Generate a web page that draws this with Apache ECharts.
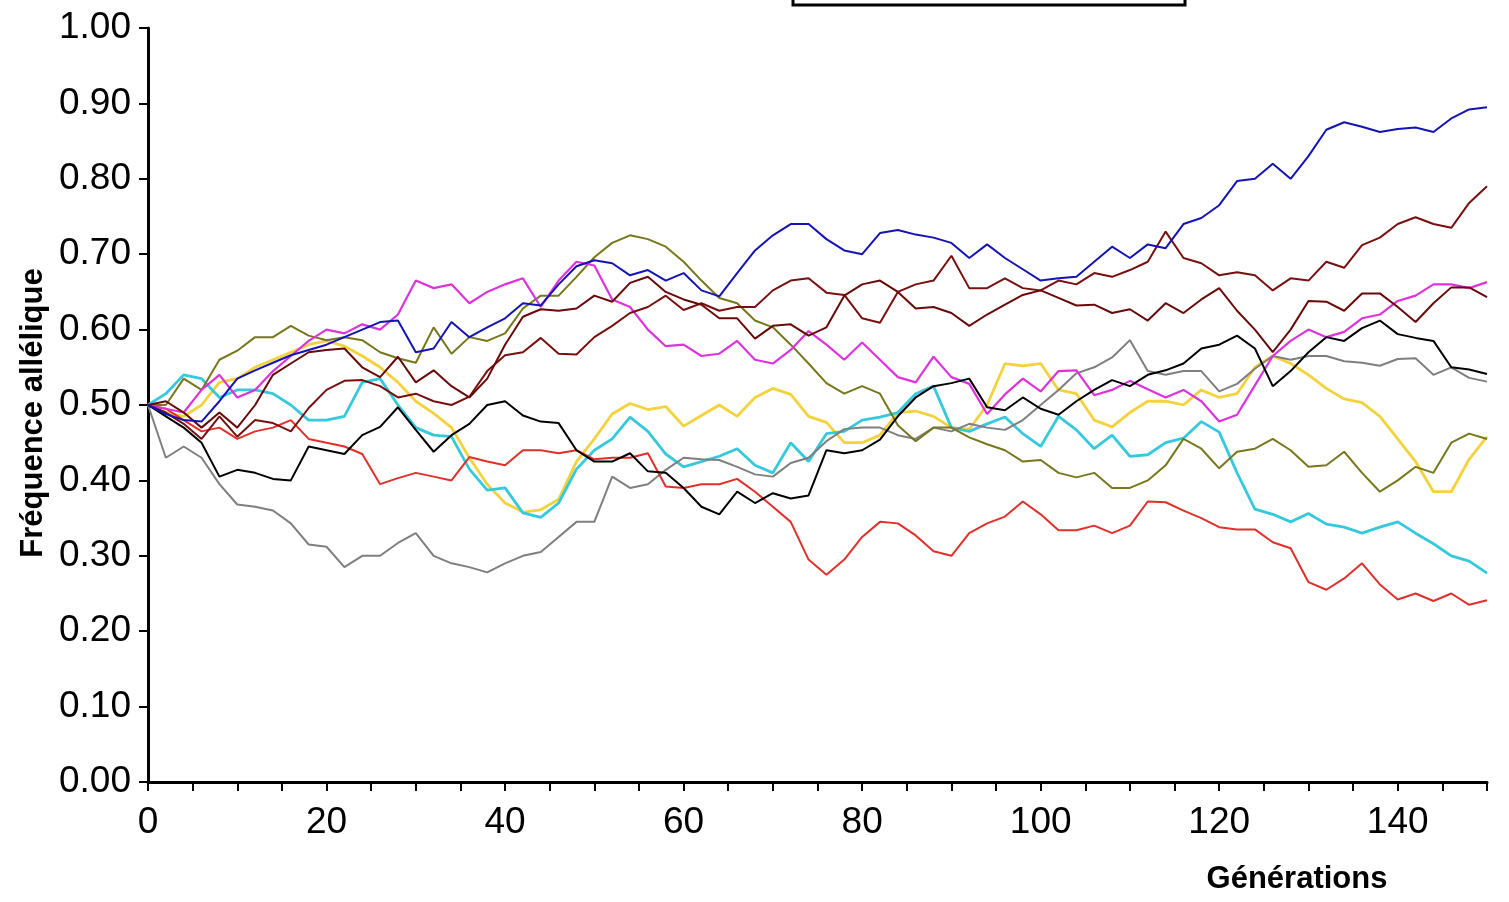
<!DOCTYPE html>
<html>
<head>
<meta charset="utf-8">
<script src="https://cdn.jsdelivr.net/npm/echarts@6/dist/echarts.min.js"></script>
<style>
  html, body { margin: 0; padding: 0; background: #fff; }
  #chart { width: 1509px; height: 902px; }
</style>
</head>
<body>
<div id="chart"></div>
<script>
// generations sampled every 2
const generations = [0,2,4,6,8,10,12,14,16,18,20,22,24,26,28,30,32,34,36,38,40,42,44,46,48,50,52,54,56,58,60,62,64,66,68,70,72,74,76,78,80,82,84,86,88,90,92,94,96,98,100,102,104,106,108,110,112,114,116,118,120,122,124,126,128,130,132,134,136,138,140,142,144,146,148,150]

const blue = [.50,.488,.48,.478,.505,.535,.546,.556,.566,.573,
  .58,.59,.60,.61,.612,.57,.575,.61,.59,.603,
  .615,.635,.632,.66,.684,.692,.688,.672,.679,.665,
  .675,.652,.644,.675,.705,.725,.74,.74,.72,.705,
  .70,.728,.732,.726,.722,.715,.695,.713,.695,.68,
  .665,.668,.67,.69,.71,.695,.713,.708,.74,.748,
  .765,.797,.80,.82,.80,.83,.865,.875,.869,.862,
  .866,.868,.862,.88,.892,.895]
const magenta = [.50,.495,.49,.52,.54,.51,.52,.545,.565,.585,
  .60,.595,.607,.60,.62,.665,.655,.66,.635,.65,
  .66,.668,.63,.665,.69,.685,.64,.63,.60,.578,
  .58,.565,.568,.585,.56,.555,.573,.598,.58,.56,
  .583,.56,.537,.53,.564,.537,.528,.488,.514,.535,
  .518,.545,.546,.513,.52,.532,.521,.51,.52,.505,
  .478,.487,.526,.565,.585,.60,.59,.597,.615,.62,
  .638,.645,.66,.66,.655,.663]
const maroonA = [.50,.49,.475,.455,.485,.458,.48,.476,.465,.496,
  .52,.532,.533,.525,.51,.515,.505,.50,.511,.545,
  .566,.57,.589,.568,.567,.59,.605,.622,.63,.645,
  .626,.635,.625,.63,.63,.652,.665,.668,.649,.646,
  .615,.609,.65,.66,.665,.698,.655,.655,.668,.655,
  .652,.665,.66,.675,.67,.679,.69,.73,.695,.688,
  .672,.676,.672,.652,.668,.665,.69,.682,.712,.722,
  .74,.749,.74,.735,.768,.79]
const maroonB = [.50,.505,.49,.47,.49,.47,.50,.54,.555,.57,
  .573,.575,.55,.537,.564,.53,.546,.525,.51,.535,
  .58,.617,.627,.625,.628,.645,.637,.662,.67,.65,
  .64,.633,.615,.615,.588,.605,.607,.592,.603,.645,
  .66,.665,.65,.628,.63,.622,.605,.62,.633,.646,
  .652,.642,.632,.633,.622,.627,.612,.635,.622,.64,
  .655,.625,.60,.57,.60,.638,.637,.625,.648,.648,
  .63,.61,.635,.656,.656,.643]
const black = [.50,.485,.47,.45,.405,.414,.41,.402,.40,.445,
  .44,.435,.46,.471,.497,.467,.438,.46,.475,.50,
  .505,.486,.478,.476,.44,.425,.425,.436,.412,.41,
  .39,.365,.355,.385,.37,.383,.376,.38,.44,.436,
  .44,.454,.485,.51,.525,.529,.535,.497,.493,.51,
  .495,.487,.505,.52,.533,.525,.54,.546,.555,.575,
  .58,.592,.575,.525,.545,.57,.59,.585,.602,.612,
  .594,.589,.585,.55,.547,.541]
const gray = [.50,.43,.445,.43,.395,.368,.365,.36,.343,.315,
  .312,.285,.30,.30,.317,.33,.30,.29,.285,.278,
  .29,.30,.305,.325,.345,.345,.405,.39,.395,.414,
  .43,.428,.427,.418,.408,.405,.423,.43,.452,.468,
  .47,.47,.46,.455,.47,.465,.475,.47,.467,.48,
  .50,.52,.542,.55,.563,.586,.545,.54,.545,.545,
  .518,.528,.548,.565,.56,.565,.565,.558,.556,.552,
  .561,.562,.54,.55,.536,.531]
const cyan = [.50,.515,.54,.535,.51,.52,.52,.515,.50,.48,
  .48,.485,.53,.535,.50,.47,.46,.458,.415,.387,
  .39,.357,.351,.37,.415,.44,.455,.484,.465,.435,
  .418,.425,.432,.442,.42,.41,.45,.425,.462,.465,
  .48,.484,.49,.515,.525,.47,.465,.475,.484,.462,
  .445,.485,.467,.442,.46,.432,.434,.45,.456,.478,
  .464,.41,.362,.355,.345,.356,.342,.338,.33,.338,
  .345,.33,.316,.30,.293,.277]
const yellow = [.50,.49,.485,.50,.53,.535,.55,.56,.57,.58,
  .585,.578,.565,.55,.53,.505,.489,.47,.43,.395,
  .37,.358,.361,.375,.425,.455,.488,.502,.494,.498,
  .472,.486,.50,.485,.51,.522,.514,.485,.477,.45,
  .45,.46,.49,.492,.485,.47,.468,.50,.555,.552,
  .555,.52,.515,.48,.471,.49,.505,.505,.50,.52,
  .51,.515,.55,.565,.555,.54,.522,.508,.503,.485,
  .455,.425,.385,.385,.428,.458]
const olive = [.50,.50,.535,.52,.56,.572,.59,.59,.605,.592,
  .586,.59,.586,.57,.562,.556,.603,.568,.59,.585,
  .595,.628,.645,.645,.67,.696,.715,.725,.72,.71,
  .69,.665,.642,.635,.612,.603,.58,.555,.529,.515,
  .525,.515,.473,.452,.47,.47,.457,.448,.44,.425,
  .427,.41,.404,.41,.39,.39,.40,.42,.455,.442,
  .416,.438,.442,.455,.44,.418,.42,.438,.41,.385,
  .40,.418,.41,.45,.462,.455]
const red = [.50,.495,.48,.465,.47,.455,.465,.47,.48,.455,
  .45,.445,.435,.395,.403,.41,.405,.40,.431,.425,
  .42,.44,.44,.436,.44,.428,.43,.43,.436,.392,
  .39,.395,.395,.402,.385,.365,.345,.295,.275,.295,
  .325,.345,.343,.327,.306,.30,.33,.343,.352,.372,
  .355,.334,.334,.34,.33,.34,.372,.371,.36,.35,
  .338,.335,.335,.318,.31,.265,.255,.27,.29,.262,
  .242,.25,.24,.25,.235,.241]

const yTicks = [0,0.1,0.2,0.3,0.4,0.5,0.6,0.7,0.8,0.9,1.0]
const xLabelStep = 20

const lines = [
  { name: 'jaune', data: yellow, color: '#f3d23c', width: 2.8 },
  { name: 'cyan', data: cyan, color: '#35c9dd', width: 2.8 },
  { name: 'gris', data: gray, color: '#7f7f7f', width: 2 },
  { name: 'olive', data: olive, color: '#77771c', width: 2 },
  { name: 'rouge', data: red, color: '#e0302a', width: 2 },
  { name: 'magenta', data: magenta, color: '#dd33dd', width: 2.2 },
  { name: 'noir', data: black, color: '#000000', width: 2 },
  { name: 'bordeaux1', data: maroonA, color: '#781010', width: 2 },
  { name: 'bordeaux2', data: maroonB, color: '#680a0a', width: 2 },
  { name: 'bleu', data: blue, color: '#1414b4', width: 2 },
]

const narrow = "'Liberation Sans Narrow', 'Arial Narrow', 'Liberation Sans', Arial, sans-serif"
const bold = "'Liberation Sans', Arial, sans-serif"
const chart = echarts.init(document.getElementById('chart'))

chart.setOption({
  animation: false,
  backgroundColor: '#fff',
  grid: { left: 148, right: 22, top: 28, bottom: 120 },
  xAxis: {
    type: 'value', min: 0, max: 150, interval: 5,
    axisLine: { lineStyle: { color: '#000', width: 3 } },
    axisTick: { inside: false, length: 9, lineStyle: { color: '#000', width: 2 } },
    axisLabel: { margin: 22, fontSize: 37, color: '#000', fontFamily: narrow,
      formatter: v => v % xLabelStep === 0 ? String(v) : '' },
    splitLine: { show: false },
  },
  yAxis: {
    type: 'value', min: yTicks[0], max: yTicks[yTicks.length - 1], interval: 0.1,
    axisLine: { show: true, lineStyle: { color: '#000', width: 3 } },
    axisTick: { show: true, length: 9, lineStyle: { color: '#000', width: 2 } },
    axisLabel: { margin: 17, fontSize: 37, color: '#000', fontFamily: narrow,
      formatter: v => v.toFixed(2) },
    splitLine: { show: false },
  },
  series: lines.map(l => ({
    name: l.name, type: 'line', symbol: 'none', smooth: false,
    data: generations.map((g, i) => [g, l.data[i]]),
    lineStyle: { color: l.color, width: l.width },
    itemStyle: { color: l.color },
  })),
  graphic: [
    { type: 'rect', shape: { x: 793, y: -30, width: 392, height: 35 },
      style: { fill: 'none', stroke: '#000', lineWidth: 3 } },
    { type: 'text', x: 33, y: 413, rotation: Math.PI / 2,
      style: { text: 'Fréquence allélique', font: 'bold 31px ' + bold, fill: '#000',
        textAlign: 'center', textVerticalAlign: 'middle' } },
    { type: 'text', x: 1297, y: 879,
      style: { text: 'Générations', font: 'bold 31px ' + bold, fill: '#000',
        textAlign: 'center', textVerticalAlign: 'middle' } },
  ],
})
</script>
</body>
</html>
